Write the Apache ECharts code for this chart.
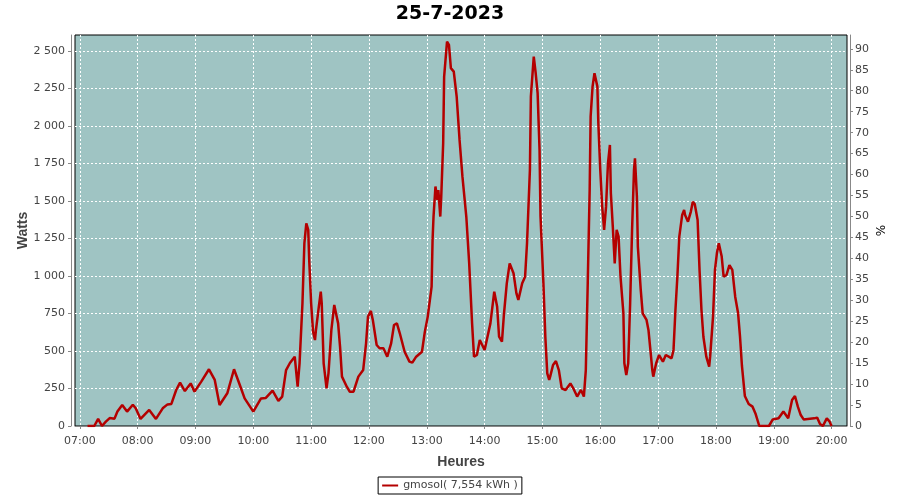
<!DOCTYPE html>
<html>
<head>
<meta charset="utf-8">
<script src="https://cdn.jsdelivr.net/npm/echarts@6/dist/echarts.min.js"></script>
<style>html,body{margin:0;padding:0;background:#fff}#c{width:900px;height:500px}</style>
</head>
<body>
<div id="c"></div>
<script>
var title = '25-7-2023';
var seriesName = 'gmosol( 7,554 kWh )';
var xTicks = ['07:00','08:00','09:00','10:00','11:00','12:00','13:00','14:00','15:00','16:00','17:00','18:00','19:00','20:00'];
var wattTicks = [0,250,500,750,1000,1250,1500,1750,2000,2250,2500];
var pctTicks = [0,5,10,15,20,25,30,35,40,45,50,55,60,65,70,75,80,85,90];
var times = ['07:08','07:15','07:19','07:23','07:27','07:31','07:36','07:39','07:44','07:49','07:55','07:58',
'08:03','08:12','08:19','08:26','08:31','08:35','08:40','08:44','08:49','08:55','08:59',
'09:06','09:14','09:20','09:25','09:33','09:40','09:46','09:51',
'10:00','10:08','10:13','10:20','10:26','10:30','10:34','10:38','10:43','10:46','10:48','10:51','10:53','10:55','10:57','10:58',
'11:00','11:02','11:04','11:05','11:08','11:10','11:11','11:13','11:16','11:18','11:21','11:24','11:28','11:30','11:32','11:37','11:40','11:44','11:49','11:54','11:57','11:59',
'12:02','12:04','12:08','12:11','12:15','12:19','12:23','12:26','12:29','12:32','12:37','12:42','12:45','12:49','12:55','12:58',
'13:01','13:05','13:06','13:07','13:09','13:11','13:12','13:14','13:15','13:17','13:18','13:21','13:23','13:25','13:28','13:31','13:34','13:37','13:41','13:44','13:47','13:49','13:52','13:55',
'14:00','14:02','14:06','14:10','14:13','14:15','14:18','14:20','14:23','14:26','14:30','14:33','14:35','14:39','14:42','14:44','14:47','14:48','14:50','14:51','14:53','14:55','14:57','14:58',
'15:01','15:03','15:05','15:07','15:08','15:11','15:14','15:17','15:20','15:24','15:29','15:32','15:36','15:40','15:43','15:45','15:47','15:49','15:50','15:52','15:54','15:57','15:58',
'16:00','16:02','16:04','16:06','16:08','16:10','16:11','16:13','16:15','16:17','16:19','16:21','16:24','16:25','16:27','16:29','16:31','16:33','16:35','16:36','16:38','16:39','16:42','16:44','16:48','16:50','16:52','16:54','16:55','16:58',
'17:01','17:03','17:05','17:08','17:11','17:14','17:16','17:18','17:20','17:22','17:25','17:27','17:28','17:31','17:34','17:36','17:38','17:41','17:43','17:45','17:47','17:50','17:53','17:54','17:57','17:59',
'18:01','18:03','18:06','18:08','18:11','18:14','18:17','18:20','18:23','18:25','18:27','18:30','18:34','18:38','18:41','18:45','18:55','18:59',
'19:05','19:10','19:15','19:17','19:19','19:22','19:25','19:28','19:31','19:42','19:45','19:48','19:51','19:55','19:58','20:00'];
var watts = [0,0,47,0,29,53,49,96,140,96,142,118,
47,107,47,118,144,147,240,289,233,284,229,
296,378,307,140,218,378,273,184,
96,184,187,236,167,196,373,420,462,262,418,818,1218,1351,1307,1107,
818,629,573,640,795,895,818,418,251,351,640,807,684,529,329,262,229,229,329,373,551,729,
767,707,540,518,518,462,551,673,684,618,495,429,422,462,495,629,
729,929,1240,1396,1596,1507,1573,1396,1529,1885,2329,2562,2540,2385,2362,2196,1907,1662,1396,1084,684,462,473,573,
507,495,684,895,795,595,562,740,951,1084,1018,884,840,951,995,1218,1707,2196,2373,2462,2351,2218,1840,1396,
951,595,351,307,329,407,433,373,251,240,284,251,196,240,196,373,951,1573,2062,2262,2351,2262,2018,
1707,1462,1307,1462,1751,1873,1551,1329,1084,1307,1262,995,751,418,340,418,818,1307,1707,1784,1529,1196,907,751,707,640,507,373,329,418,
473,473,429,473,462,451,507,773,995,1262,1407,1440,1407,1362,1429,1495,1480,1373,1040,773,595,462,395,462,729,1040,
1151,1218,1129,995,1007,1073,1040,862,751,595,400,200,147,129,84,0,0,44,
51,96,51,51,173,200,129,73,44,51,56,13,0,51,29,0];

function toMin(s){var p=s.split(':');return (+p[0])*60+(+p[1]);}
function fmtTime(v){var h=Math.floor(v/60),m=Math.round(v-h*60);return (h<10?'0':'')+h+':'+(m<10?'0':'')+m;}
function fmtWatt(v){var s=String(v);return s.length>3?s.slice(0,s.length-3)+' '+s.slice(-3):s;}
var data = times.map(function(t,i){return [toMin(t), watts[i]];});
var xVals = xTicks.map(toMin);

var FONT = 'DejaVu Sans';
var chart = echarts.init(document.getElementById('c'), null, {renderer:'canvas'});
chart.setOption({
  animation:false,
  backgroundColor:'#ffffff',
  title:{text:title,left:'center',top:0,textStyle:{fontFamily:FONT,fontSize:19,fontWeight:'bold',color:'#000'}},
  legend:{data:[seriesName],left:'center',top:477,padding:[3,4,3,4],borderColor:'#000',borderWidth:1,borderRadius:0,
    icon:'rect',itemWidth:16,itemHeight:2,textStyle:{fontFamily:FONT,fontSize:11,color:'#444'}},
  grid:{left:75,right:53,top:35,bottom:74,show:true,backgroundColor:'#9fc4c3',borderColor:'#000',borderWidth:1},
  xAxis:{type:'value',min:415,max:1216,offset:4,
    name:'Heures',nameLocation:'middle',nameGap:25,nameMoveOverlap:false,
    nameTextStyle:{fontFamily:'Liberation Sans',fontSize:14,fontWeight:'bold',color:'#444'},
    axisLine:{show:true,lineStyle:{color:'#888',width:1}},
    axisTick:{show:true,length:3,customValues:xVals,lineStyle:{color:'#888'}},
    axisLabel:{customValues:xVals,formatter:fmtTime,fontFamily:FONT,fontSize:11,color:'#444',margin:6},
    splitLine:{show:true,lineStyle:{color:'#fff',type:[2,2],width:1}}},
  yAxis:[
    {type:'value',min:0,max:2606,offset:4,position:'left',
     name:'Watts',nameLocation:'middle',nameGap:41,nameMoveOverlap:false,
     nameTextStyle:{fontFamily:'Liberation Sans',fontSize:14,fontWeight:'bold',color:'#444'},
     axisLine:{show:true,lineStyle:{color:'#888',width:1}},
     axisTick:{show:true,length:3,customValues:wattTicks,lineStyle:{color:'#888'}},
     axisLabel:{customValues:wattTicks,formatter:fmtWatt,fontFamily:FONT,fontSize:11,color:'#444',margin:6},
     splitLine:{show:true,lineStyle:{color:'#fff',type:[2,2],width:1}}},
    {type:'value',min:0,max:93.3,offset:3,position:'right',
     name:'%',nameLocation:'middle',nameGap:26,nameMoveOverlap:false,
     nameTextStyle:{fontFamily:FONT,fontSize:12,color:'#000'},
     axisLine:{show:true,lineStyle:{color:'#888',width:1}},
     axisTick:{show:true,length:3,customValues:pctTicks,lineStyle:{color:'#888'}},
     axisLabel:{customValues:pctTicks,fontFamily:FONT,fontSize:11,color:'#444',margin:5},
     splitLine:{show:false}}
  ],
  series:[{name:seriesName,type:'line',xAxisIndex:0,yAxisIndex:0,data:data,showSymbol:false,symbol:'none',
    lineStyle:{color:'#b40000',width:2.5},itemStyle:{color:'#b40000'},smooth:false}]
});
</script>
</body>
</html>
